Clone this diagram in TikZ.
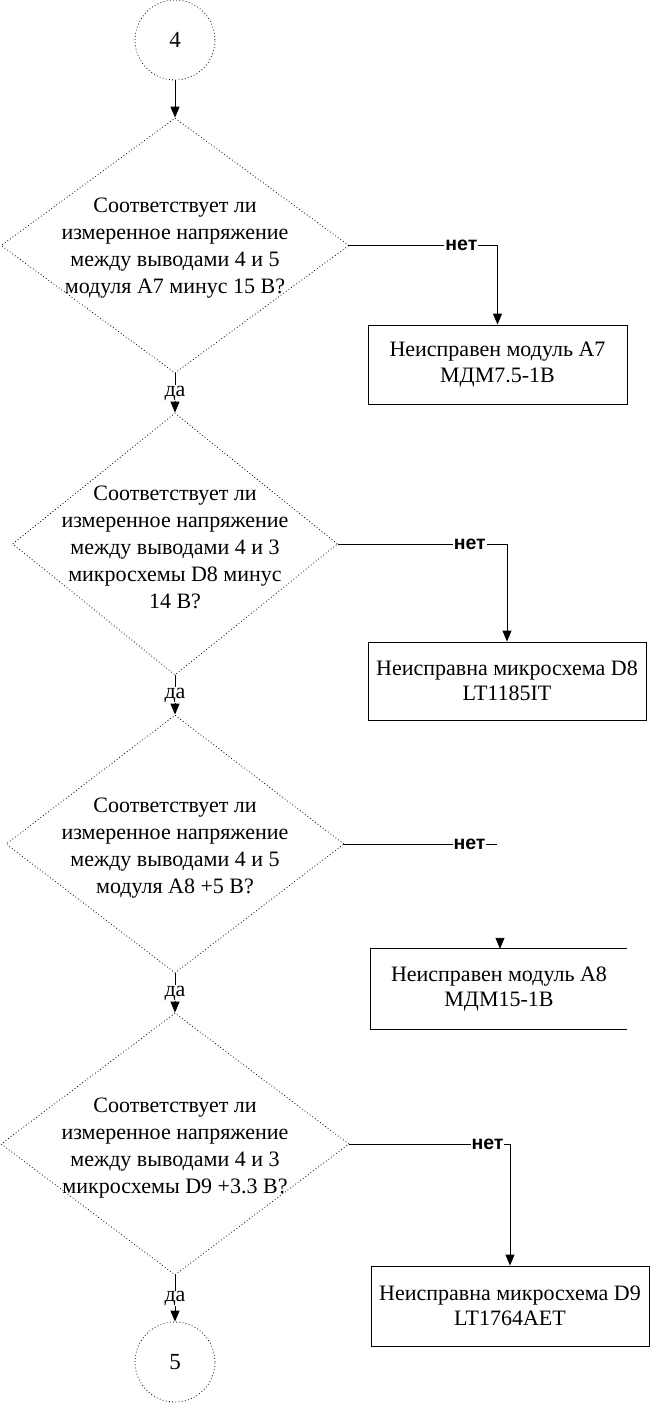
\documentclass[tikz,border=0pt]{standalone}
\usepackage{fontspec}
\setmainfont{Liberation Serif}
\newfontfamily\labelfont{Liberation Sans}
\usetikzlibrary{shapes.geometric,arrows.meta}
\begin{document}
\begin{tikzpicture}[x=1pt,y=-1pt,
  dotline/.style={draw, line width=0.8pt, dash pattern=on 0.8pt off 2.4pt},
  dia/.style={diamond, dotline, inner sep=0pt},
  conn/.style={circle, dotline, minimum size=80pt, inner sep=0pt, font=\fontsize{23}{26}\selectfont},
  qtext/.style={align=center, inner sep=0pt, font=\fontsize{22}{27}\selectfont},
  res/.style={align=center, inner sep=0pt, font=\fontsize{22}{25.5}\selectfont},
  resbox/.style={res, draw, line width=0.9pt},
  conline/.style={line width=0.9pt},
  arr/.style={conline, -{Triangle[length=11pt,width=9pt]}},
  nolabel/.style={fill=white, inner sep=1pt, font=\labelfont\bfseries\fontsize{19.5}{19.5}\selectfont},
  yeslabel/.style={fill=white, inner sep=0.5pt, font=\fontsize{22}{22}\selectfont}
]
\useasboundingbox (0,0) rectangle (650,1403);

% connector circles
\node[conn] (c4) at (175,40) {4};
\node[conn] (c5) at (175,1362) {5};

% decisions
\node[dia, minimum width=348pt, minimum height=255pt] (d1) at (175,245.5) {};
\node[qtext] (t1) at ([yshift=-3pt]d1.center) {Соответствует ли\\измеренное напряжение\\между выводами 4 и 5\hspace*{0.4em}\\модуля А7 минус 15 В?};

\node[dia, minimum width=325pt, minimum height=262pt] (d2) at (175,544) {};
\node[qtext] (t2) at ([yshift=-3pt]d2.center) {Соответствует ли\\измеренное напряжение\\между выводами 4 и 3\\микросхемы D8 минус\hspace*{1.2em}\\14 В?};

\node[dia, minimum width=338pt, minimum height=258pt] (d3) at (175,844) {};
\node[qtext] (t3) at ([yshift=-4pt]d3.center) {Соответствует ли\\измеренное напряжение\\между выводами 4 и 5\\модуля А8 +5 В?};

\node[dia, minimum width=348pt, minimum height=262pt] (d4) at (175,1144) {};
\node[qtext] (t4) at ([yshift=-4pt]d4.center) {Соответствует ли\\измеренное напряжение\\между выводами 4 и 3\hspace*{0.5em}\\микросхемы D9 +3.3 В?};

% results
\node[resbox, minimum width=259pt, minimum height=79pt] (b1) at (497.5,364.5) {Неисправен модуль А7\\МДМ7.5-1В};
\node[resbox, minimum width=278pt, minimum height=78pt] (b2) at (507,681) {Неисправна микросхема D8\\LT1185IT};
\node[res, minimum width=256pt, minimum height=80pt] (b3) at (499,989) {Неисправен модуль А8\\МДМ15-1В};
\draw[conline] (b3.north east) -- (b3.north west) -- (b3.south west) -- (b3.south east);
\node[resbox, minimum width=278pt, minimum height=80pt] (b4) at (510,1306) {Неисправна микросхема D9\\LT1764AET};

% main flow
\draw[arr] (c4.south) -- (d1.north);
\draw[arr] (d1.south) -- node[yeslabel]{да} (d2.north);
\draw[arr] (d2.south) -- node[yeslabel]{да} (d3.north);
\draw[arr] (d3.south) -- node[yeslabel]{да} (d4.north);
\draw[arr] (d4.south) -- node[yeslabel]{да} (c5.north);

% "no" branches
\draw[arr] (d1.east) -| node[nolabel, pos=0.378]{нет} (b1.north);
\draw[arr] (d2.east) -| node[nolabel, pos=0.39]{нет} (b2.north);
\coordinate (n3) at (497,844);
\draw[conline] (d3.east) -- node[nolabel, pos=0.82]{нет} (n3);
\coordinate (h3) at (500,938);
\draw[arr] (h3) -- (b3.north -| h3);
\draw[arr] (d4.east) -| node[nolabel, pos=0.43]{нет} (b4.north);
\end{tikzpicture}
\end{document}
